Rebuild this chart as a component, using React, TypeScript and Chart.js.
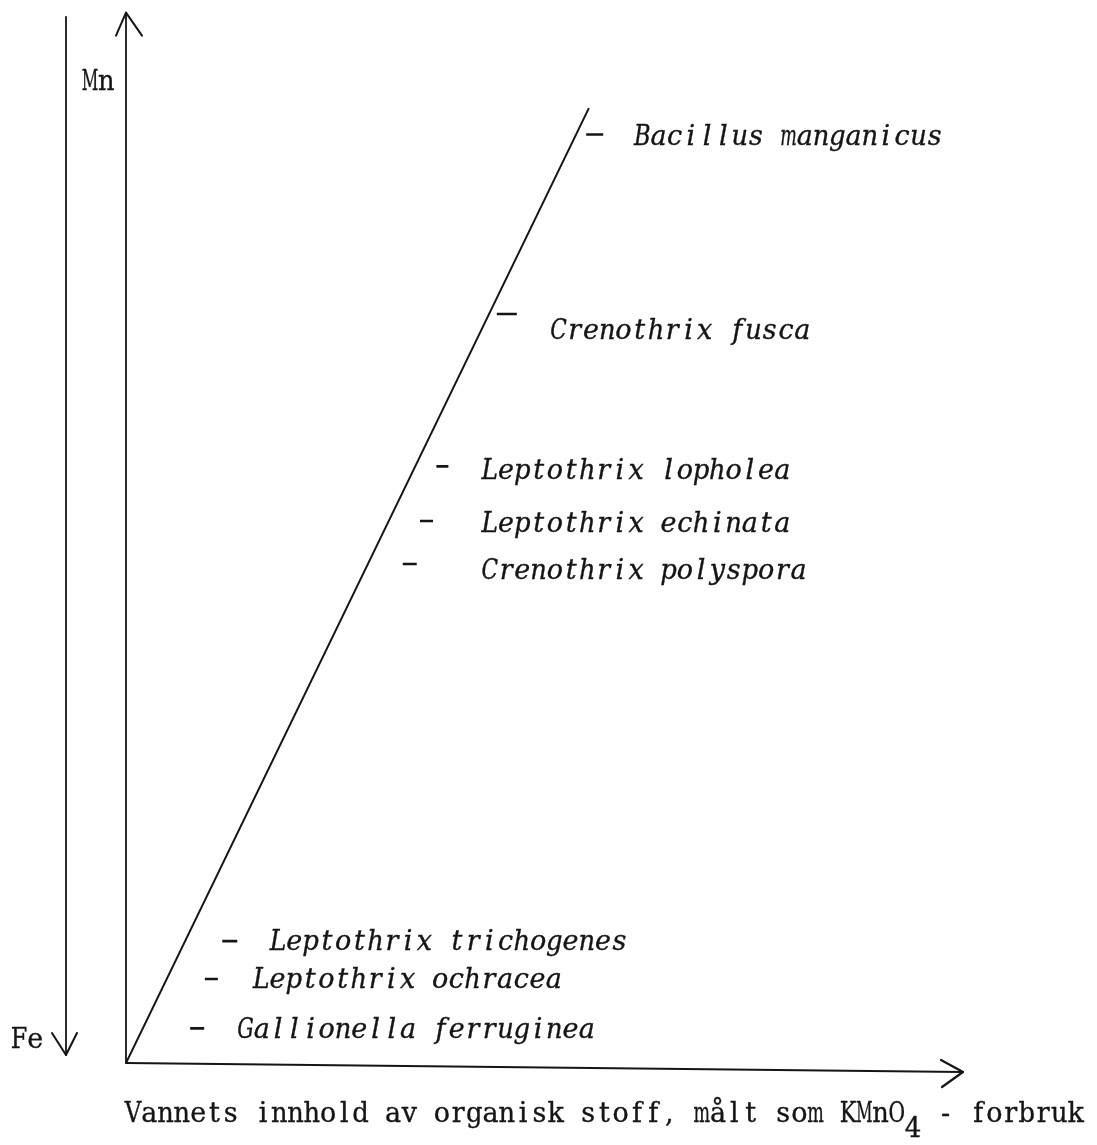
import React, { useEffect, useRef } from "react";
import { Chart, registerables } from "chart.js";

Chart.register(...registerables);

// Species along the Fe -> Mn gradient (increasing organic content)
const species = [
  "Bacillus manganicus",
  "Crenothrix fusca",
  "Leptothrix lopholea",
  "Leptothrix echinata",
  "Crenothrix polyspora",
  "Leptothrix trichogenes",
  "Leptothrix ochracea",
  "Gallionella ferruginea",
];
// dash marker centre (x: organic content, y: Mn/Fe position), arbitrary units 0-100
const dashX = [56.0, 45.5, 37.8, 35.9, 33.9, 12.4, 10.2, 8.5];
const dashY = [88.4, 71.3, 56.8, 51.6, 47.5, 11.6, 8.0, 3.3];
const dashHalfWidth = [8.5, 10, 6, 6.5, 7, 7.5, 6.5, 7];
// where each name begins
const labelX = [60.7, 50.7, 42.5, 42.5, 42.5, 17.2, 15.2, 13.3];
const labelY = [88.3, 69.8, 56.5, 51.5, 47.0, 11.7, 8.0, 3.3];
// the trend line
const trendX = [0, 55.3];
const trendY = [0, 90.9];

const xAxisTitle = "Vannets innhold av organisk stoff, målt som KMnO";
const xAxisSub = "4";
const xAxisTail = " - forbruk";
const topLabel = "Mn";
const bottomLabel = "Fe";
const feMnAxisX = -7.17; // the Fe-Mn arrow to the left of the y axis

const INK = "#151515";
const FONT_PX = 27;
const PITCH = 16.25; // typewriter character pitch

// draws text on a fixed typewriter pitch, each glyph centred in its cell
function drawText(ctx: CanvasRenderingContext2D, s: string, x: number, baseline: number, italic: boolean) {
  ctx.save();
  ctx.font = `${italic ? "italic " : ""}${FONT_PX}px "DejaVu Serif", "Liberation Serif", serif`;
  ctx.textBaseline = "alphabetic";
  ctx.textAlign = "left";
  ctx.fillStyle = INK;
  ctx.strokeStyle = INK;
  ctx.lineWidth = 0.35;
  const chars = Array.from(s);
  chars.forEach((ch, i) => {
    if (ch === " ") return;
    const w = ctx.measureText(ch).width;
    const maxW = PITCH * 1.02;
    const sx = w > maxW ? maxW / w : 1;
    const cx = x + i * PITCH + PITCH / 2;
    ctx.save();
    ctx.translate(cx, baseline);
    ctx.scale(sx, 1);
    ctx.fillText(ch, -w / 2, 0);
    ctx.strokeText(ch, -w / 2, 0);
    ctx.restore();
  });
  ctx.restore();
}

const decor = {
  id: "decor",
  afterDatasetsDraw(chart: any) {
    const ctx: CanvasRenderingContext2D = chart.ctx;
    const xs = chart.scales.x;
    const ys = chart.scales.y;
    const ox = xs.getPixelForValue(0);
    const oy = ys.getPixelForValue(0);
    const xEnd = xs.getPixelForValue(100);
    const yTop = ys.getPixelForValue(100);
    ctx.save();
    ctx.strokeStyle = INK;
    ctx.lineCap = "round";
    ctx.lineJoin = "round";

    // y axis (Mn up)
    ctx.lineWidth = 1.8;
    ctx.beginPath();
    ctx.moveTo(ox, oy);
    ctx.lineTo(ox, yTop);
    ctx.stroke();
    ctx.lineWidth = 2;
    ctx.beginPath();
    ctx.moveTo(ox - 10, yTop + 23);
    ctx.lineTo(ox, yTop);
    ctx.lineTo(ox + 16, yTop + 23);
    ctx.stroke();

    // x axis
    const xTipY = oy + 9;
    ctx.lineWidth = 1.8;
    ctx.beginPath();
    ctx.moveTo(ox, oy);
    ctx.lineTo(xEnd, xTipY);
    ctx.stroke();
    ctx.lineWidth = 2.2;
    ctx.beginPath();
    ctx.moveTo(xEnd - 22, xTipY - 12);
    ctx.lineTo(xEnd, xTipY);
    ctx.lineTo(xEnd - 21, xTipY + 15);
    ctx.stroke();

    // Fe-Mn arrow (pointing down to Fe)
    const lx = xs.getPixelForValue(feMnAxisX);
    const lTop = ys.getPixelForValue(99.6);
    const lBot = ys.getPixelForValue(0.76);
    ctx.lineWidth = 1.8;
    ctx.beginPath();
    ctx.moveTo(lx, lTop);
    ctx.lineTo(lx, lBot);
    ctx.stroke();
    ctx.lineWidth = 2;
    ctx.beginPath();
    ctx.moveTo(lx - 14, lBot - 22);
    ctx.lineTo(lx, lBot);
    ctx.lineTo(lx + 11, lBot - 22);
    ctx.stroke();
    ctx.restore();

    // labels
    drawText(ctx, topLabel, lx + 16, ys.getPixelForValue(92.6), false);
    drawText(ctx, bottomLabel, lx - 55, lBot - 7, false);

    species.forEach((name, i) => {
      drawText(ctx, name, xs.getPixelForValue(labelX[i]), ys.getPixelForValue(labelY[i]) + 9.5, true);
    });

    const tx = ox - 1;
    const tb = oy + 59;
    drawText(ctx, xAxisTitle, tx, tb, false);
    drawText(ctx, xAxisSub, tx + PITCH * xAxisTitle.length, tb + 15, false);
    drawText(ctx, xAxisTail, tx + PITCH * (xAxisTitle.length + 1), tb, false);
  },
};

export default function App() {
  const ref = useRef<HTMLCanvasElement | null>(null);
  useEffect(() => {
    if (!ref.current) return;
    const chart = new Chart(ref.current, {
      type: "scatter",
      data: {
        datasets: [
          {
            label: "trend",
            data: trendX.map((x, i) => ({ x, y: trendY[i] })),
            showLine: true,
            borderColor: INK,
            borderWidth: 2,
            pointRadius: 0,
          },
          {
            label: "species",
            data: dashX.map((x, i) => ({ x, y: dashY[i] })),
            pointStyle: "line",
            pointRadius: dashHalfWidth,
            borderColor: INK,
            backgroundColor: INK,
            pointBorderWidth: 2.6,
            showLine: false,
          } as any,
        ],
      },
      options: {
        responsive: false,
        animation: false,
        devicePixelRatio: 1,
        layout: { padding: { left: 126, right: 134, top: 9, bottom: 82 } },
        scales: {
          x: { type: "linear", min: 0, max: 100, display: false },
          y: { type: "linear", min: 0, max: 100, display: false },
        },
        plugins: {
          legend: { display: false },
          tooltip: { enabled: false },
        },
        events: [],
      },
      plugins: [decor],
    });
    return () => chart.destroy();
  }, []);
  return (
    <div style={{ position: "absolute", left: 0, top: 0, width: 1097, height: 1145, background: "#fff" }}>
      <canvas ref={ref} width={1097} height={1145} style={{ display: "block", width: 1097, height: 1145 }} />
    </div>
  );
}
